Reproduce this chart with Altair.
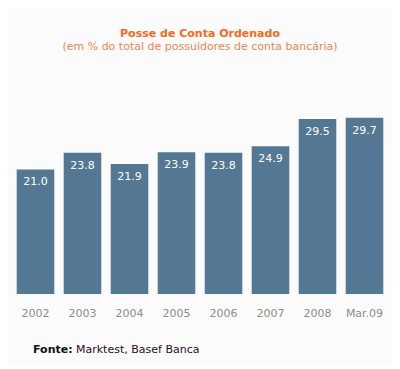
import altair as alt
import pandas as pd

categories = ["2002", "2003", "2004", "2005", "2006", "2007", "2008", "Mar.09"]
values = [21.0, 23.8, 21.9, 23.9, 23.8, 24.9, 29.5, 29.7]

df = pd.DataFrame({"cat": categories, "val": values})
df["lbl"] = df["val"].map(lambda v: f"{v:.1f}")

FONT = "DejaVu Sans"
BAR = "#547894"

base = alt.Chart(df)

x = alt.X("cat:N", sort=categories, title=None,
          scale=alt.Scale(paddingInner=0.2, paddingOuter=0.1),
          axis=alt.Axis(labelAngle=0, ticks=False, tickSize=0, domain=False,
                        labelPadding=13, labelFont=FONT, labelFontSize=11,
                        labelColor="#8c8c8c", grid=False))
y = alt.Y("val:Q", scale=alt.Scale(domain=[0, 30], nice=False, zero=True),
          axis=None, title=None)

bars = base.mark_bar(color=BAR).encode(x=x, y=y)
labels = base.mark_text(color="white", font=FONT, fontSize=11, dy=13,
                        baseline="middle").encode(x=x, y=y, text="lbl:N")

src1 = alt.Chart(pd.DataFrame({"t": ["Fonte:"]})).mark_text(
    font=FONT, fontSize=11, fontWeight="bold", color="#111111",
    align="left", baseline="middle").encode(
    x=alt.value(21), y=alt.value(234), text="t:N")
src2 = alt.Chart(pd.DataFrame({"t": ["Marktest, Basef Banca"]})).mark_text(
    font=FONT, fontSize=11, color="#2a0a2a",
    align="left", baseline="middle").encode(
    x=alt.value(64), y=alt.value(234), text="t:N")

chart = alt.layer(bars, labels, src1, src2).properties(
    width=376, height=178,
    autosize=alt.AutoSizeParams(type="none"),
    padding={"left": 4, "right": 4, "top": 108, "bottom": 70},
    background="#fbfbfb",
    title=alt.TitleParams(
        text="Posse de Conta Ordenado",
        subtitle="(em % do total de possuidores de conta bancária)",
        font=FONT, fontSize=11, fontWeight="bold", color="#f26a1b",
        subtitleFont=FONT, subtitleFontSize=11, subtitleColor="#f5844f",
        subtitlePadding=2, anchor="middle", offset=64, frame="group",
    ),
).configure_view(stroke=None)

chart.save("out.html", embed_options={"renderer": "svg", "actions": False})
